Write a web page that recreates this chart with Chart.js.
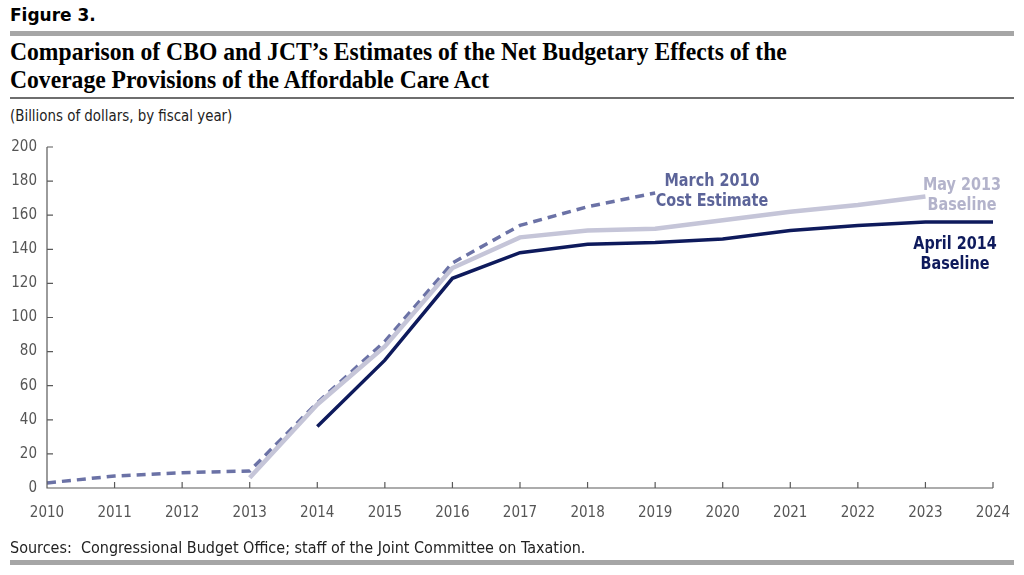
<!DOCTYPE html>
<html>
<head>
<meta charset="utf-8">
<script src="https://cdn.jsdelivr.net/npm/chart.js@4"></script>
<style>
  html, body { margin: 0; padding: 0; background: #fff; }
  #wrap { position: relative; width: 1024px; height: 575px; overflow: hidden; }
  canvas { position: absolute; left: 0; top: 0; }
  .txt { position: absolute; white-space: nowrap; }
  #fig { left: 10px; top: 5px; font: bold 17px "DejaVu Sans", sans-serif; color: #000; }
  #bar1 { position: absolute; left: 10px; width: 1004px; top: 31px; height: 5px; background: #a6a6a6; }
  #title { left: 10px; top: 38px; font: bold 26px/28px "Liberation Serif", serif; color: #000;
    transform: scaleX(0.908); transform-origin: left top; }
  #rule { position: absolute; left: 10px; width: 1004px; top: 97px; height: 2px; background: #6e6e6e; }
  #sub { left: 10px; top: 106px; font: 16px "DejaVu Sans Condensed", sans-serif; color: #222;
    transform: scaleX(0.93); transform-origin: left top; }
  #src { left: 10px; top: 538px; font: 16px "DejaVu Sans Condensed", sans-serif; color: #222; }
  #bar2 { position: absolute; left: 10px; width: 1004px; top: 560px; height: 5px; background: #a6a6a6; }
  .lab { position: absolute; text-align: center; font: bold 17px/20px "DejaVu Sans Condensed", sans-serif;
    transform: scaleX(0.94); }
</style>
</head>
<body>
<div id="wrap">
  <div class="txt" id="fig">Figure 3.</div>
  <div id="bar1"></div>
  <div class="txt" id="title">Comparison of CBO and JCT’s Estimates of the Net Budgetary Effects of the<br>Coverage Provisions of the Affordable Care Act</div>
  <div id="rule"></div>
  <div class="txt" id="sub">(Billions of dollars, by fiscal year)</div>
  <canvas id="chart" width="1024" height="575"></canvas>
  <div class="lab" style="left:649px; top:170px; width:126px; color:#5c6499;">March 2010<br>Cost Estimate</div>
  <div class="lab" style="left:912px; top:174px; width:100px; color:#b3b3cb;">May 2013<br>Baseline</div>
  <div class="lab" style="left:905px; top:233px; width:100px; color:#0e1a5c;">April 2014<br>Baseline</div>
  <div class="txt" id="src">Sources:&nbsp; Congressional Budget Office; staff of the Joint Committee on Taxation.</div>
  <div id="bar2"></div>
</div>
<script>
const years = ["2010", "2011", "2012", "2013", "2014", "2015", "2016", "2017",
  "2018", "2019", "2020", "2021", "2022", "2023", "2024"];
const march2010 = [3, 7, 9, 10, 50, 86, 132, 154, 165, 173, null, null, null, null, null];
const may2013 = [null, null, null, 6, 49, 83, 129, 147, 151, 152, 157, 162, 166, 171, null];
const april2014 = [null, null, null, null, 36, 75, 123, 138, 143, 144, 146, 151, 154, 156, 156];
const yTicks = [0, 20, 40, 60, 80, 100, 120, 140, 160, 180, 200];

const AXIS = "#5a5a5a";
const TICK_FONT = { family: "'DejaVu Sans Condensed', sans-serif", size: 15 };

// inner tick marks: y ticks point right, x ticks point up
const innerTicks = {
  id: "innerTicks",
  afterDraw(chart) {
    const { ctx, chartArea, scales } = chart;
    ctx.save();
    ctx.strokeStyle = AXIS;
    ctx.lineWidth = 1.2;
    ctx.beginPath();
    ctx.moveTo(chartArea.left, chartArea.top);
    ctx.lineTo(chartArea.left, chartArea.bottom);
    ctx.lineTo(chartArea.right, chartArea.bottom);
    for (const v of yTicks) {
      const y = scales.y.getPixelForValue(v);
      ctx.moveTo(chartArea.left, y);
      ctx.lineTo(chartArea.left + 6, y);
    }
    years.forEach((_, i) => {
      const x = scales.x.getPixelForValue(i);
      ctx.moveTo(x, chartArea.bottom);
      ctx.lineTo(x, chartArea.bottom - 6);
    });
    ctx.stroke();
    ctx.restore();
  },
};

new Chart(document.getElementById("chart"), {
  type: "line",
  data: {
    labels: years,
    datasets: [
      { label: "May 2013 Baseline", data: may2013, borderColor: "#c5c5d8", borderWidth: 4.5 },
      { label: "April 2014 Baseline", data: april2014, borderColor: "#0e1a5c", borderWidth: 3.5 },
      { label: "March 2010 Cost Estimate", data: march2010, borderColor: "#6b72a6", borderWidth: 3.5, borderDash: [9, 6] },
    ],
  },
  options: {
    responsive: false,
    animation: false,
    elements: { point: { radius: 0 }, line: { tension: 0, borderCapStyle: "butt" } },
    layout: { padding: { left: 0, right: 31, top: 147, bottom: 57 } },
    plugins: { legend: { display: false }, tooltip: { enabled: false } },
    scales: {
      x: {
        offset: false,
        grid: { display: false },
        border: { display: false },
        ticks: { color: "#555", font: TICK_FONT, maxRotation: 0, autoSkip: false, padding: 8 },
        afterFit: (s) => { s.height = 30; },
      },
      y: {
        min: 0,
        max: 200,
        afterBuildTicks: (s) => { s.ticks = yTicks.map((v) => ({ value: v })); },
        grid: { display: false },
        border: { display: false },
        ticks: { color: "#555", font: TICK_FONT, padding: 2 },
        afterFit: (s) => { s.width = 47; },
      },
    },
  },
  plugins: [innerTicks],
});
</script>
</body>
</html>
